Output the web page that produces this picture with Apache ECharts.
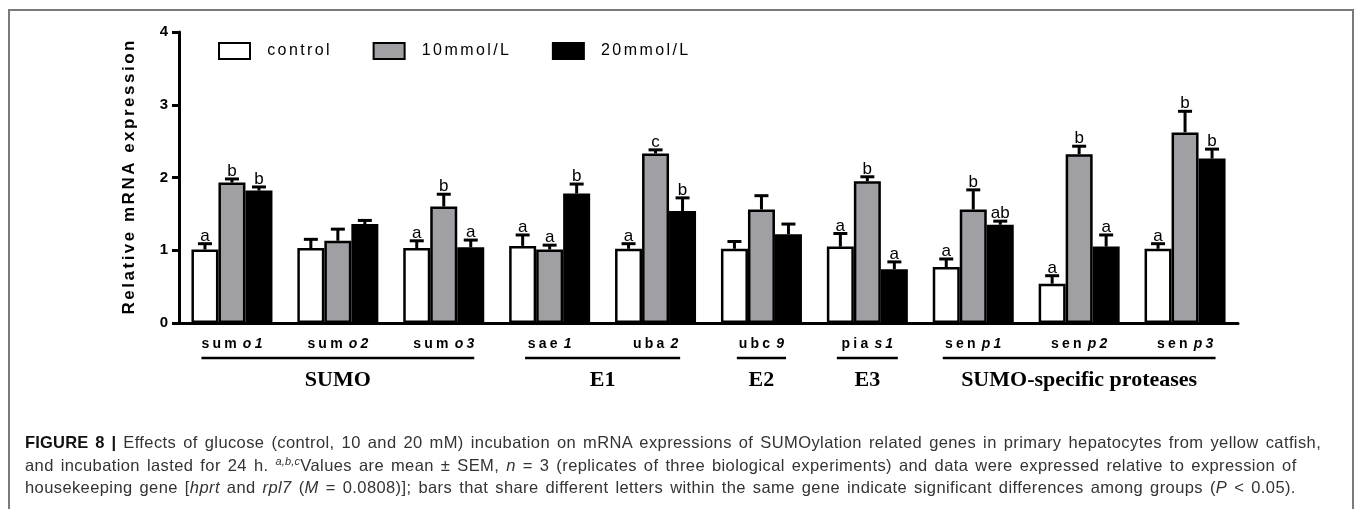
<!DOCTYPE html>
<html>
<head>
<meta charset="utf-8">
<script src="https://cdn.jsdelivr.net/npm/echarts@6/dist/echarts.min.js"></script>
<style>
  html, body { margin: 0; padding: 0; background: #fff; }
  #wrap { position: relative; width: 1360px; height: 509px; overflow: hidden; }
  #frame { position: absolute; left: 8px; top: 9px; width: 1346px; height: 520px;
           border: 2px solid #7a7a7a; border-bottom: none; box-sizing: border-box; }
  #chart { position: absolute; left: 0; top: 0; width: 1360px; height: 509px; }
  #caption { position: absolute; left: 25px; top: 431px; white-space: nowrap;
             font-family: "Liberation Sans", Arial, sans-serif; font-size: 16.5px;
             line-height: 22.5px; color: #333; letter-spacing: 0.4px; word-spacing: 2px; }
  #caption b { color: #111; letter-spacing: 0.2px; }
  #caption sup { font-size: 11px; line-height: 0; letter-spacing: 0.2px; }
</style>
</head>
<body>
<div id="wrap">
  <div id="frame"></div>
  <div id="chart"></div>
  <div id="caption">
    <b>FIGURE 8 |</b> Effects of glucose (control, 10 and 20 mM) incubation on mRNA expressions of SUMOylation related genes in primary hepatocytes from yellow catfish,<br>
    and incubation lasted for 24 h. <sup><i>a,b,c</i></sup>Values are mean ± SEM, <i>n</i> = 3 (replicates of three biological experiments) and data were expressed relative to expression of<br>
    housekeeping gene [<i>hprt</i> and <i>rpl7</i> (<i>M</i> = 0.0808)]; bars that share different letters within the same gene indicate significant differences among groups (<i>P</i> &lt; 0.05).
  </div>
</div>
<script>
const genes = ['sumo1', 'sumo2', 'sumo3', 'sae1', 'uba2', 'ubc9', 'pias1', 'senp1', 'senp2', 'senp3'];
const geneStem = ['sum', 'sum', 'sum', 'sae', 'uba', 'ubc', 'pia', 'sen', 'sen', 'sen'];
const geneItalic = ['o1', 'o2', 'o3', '1', '2', '9', 's1', 'p1', 'p2', 'p3'];
const seriesNames = ['control', '10mmol/L', '20mmol/L'];

const controlMean = [1.01, 1.03, 1.03, 1.06, 1.02, 1.02, 1.05, 0.77, 0.54, 1.02];
const controlSem = [0.08, 0.12, 0.10, 0.15, 0.07, 0.10, 0.18, 0.11, 0.11, 0.07];
const mid10Mean = [1.93, 1.13, 1.60, 1.01, 2.33, 1.56, 1.95, 1.56, 2.32, 2.62];
const mid10Sem = [0.05, 0.16, 0.17, 0.06, 0.05, 0.19, 0.06, 0.27, 0.11, 0.29];
const high20Mean = [1.82, 1.36, 1.04, 1.78, 1.54, 1.22, 0.74, 1.35, 1.05, 2.26];
const high20Sem = [0.05, 0.05, 0.10, 0.13, 0.18, 0.14, 0.10, 0.05, 0.16, 0.13];

const controlLetters = ['a', '', 'a', 'a', 'a', '', 'a', 'a', 'a', 'a'];
const mid10Letters = ['b', '', 'b', 'a', 'c', '', 'b', 'b', 'b', 'b'];
const high20Letters = ['b', '', 'a', 'b', 'b', '', 'a', 'ab', 'a', 'b'];

const groupNames = ['SUMO', 'E1', 'E2', 'E3', 'SUMO-specific proteases'];
const groupStart = [0, 3, 5, 6, 7];
const groupEnd = [2, 4, 5, 6, 9];

const yTicks = [0, 1, 2, 3, 4];

const means = [controlMean, mid10Mean, high20Mean];
const sems = [controlSem, mid10Sem, high20Sem];
const letters = [controlLetters, mid10Letters, high20Letters];
const colors = ['#ffffff', '#a0a0a4', '#000000'];
const barWidth = 27;

// spread letters out like the GraphPad text
function spaced(text, style) {
    return text.split('').map(c => '{' + style + '|' + c + '}').join('');
}

const errData = [];
for (let s = 0; s < 3; s++) {
    for (let i = 0; i < genes.length; i++) {
        errData.push([i, s, means[s][i], sems[s][i]]);
    }
}

const chart = echarts.init(document.getElementById('chart'));

const option = {
    animation: false,
    grid: { left: 179, right: 122, top: 32, bottom: 186 },
    legend: {
        data: seriesNames,
        left: 218,
        top: 42,
        padding: 0,
        itemWidth: 31,
        itemHeight: 16,
        itemGap: 43,
        icon: 'rect',
        formatter: name => spaced(name, 't'),
        textStyle: {
            padding: [0, 0, 0, 11],
            rich: {
                t: { fontFamily: 'Arial, Liberation Sans', fontSize: 16, color: '#000', padding: [0, 1.2] }
            }
        }
    },
    xAxis: {
        type: 'category',
        data: genes,
        axisLine: { lineStyle: { color: '#000', width: 3 } },
        axisTick: { alignWithLabel: true, length: 6, lineStyle: { width: 3, color: '#000' } },
        axisLabel: {
            interval: 0,
            margin: 14,
            formatter: (value, index) => spaced(geneStem[index], 'b') + '{g|}' + spaced(geneItalic[index], 'i'),
            rich: {
                b: { fontFamily: 'Arial, Liberation Sans', fontSize: 14, fontWeight: 'bold', color: '#000', padding: [0, 1.6] },
                i: { fontFamily: 'Arial, Liberation Sans', fontSize: 14, fontWeight: 'bold', fontStyle: 'italic', color: '#000', padding: [0, 1.6] },
                g: { width: 3 }
            }
        }
    },
    yAxis: {
        type: 'value',
        min: 0,
        max: 4,
        interval: 1,
        name: spaced('Relative mRNA expression', 'n'),
        nameLocation: 'middle',
        nameRotate: 90,
        nameGap: 41,
        nameTextStyle: {
            rich: {
                n: { fontFamily: 'Arial, Liberation Sans', fontSize: 17, fontWeight: 'bold', color: '#000', padding: [0, 1.25] }
            }
        },
        axisLine: { show: true, lineStyle: { color: '#000', width: 3 } },
        axisTick: { show: true, length: 7, lineStyle: { width: 3, color: '#000' } },
        splitLine: { show: false },
        axisLabel: {
            margin: 11,
            color: '#000',
            fontFamily: 'Arial, Liberation Sans',
            fontSize: 15,
            fontWeight: 'bold',
            formatter: v => (yTicks.indexOf(v) >= 0 ? String(v) : '')
        }
    },
    series: seriesNames.map((name, s) => ({
        name: name,
        type: 'bar',
        data: means[s],
        barWidth: barWidth,
        barGap: '0%',
        itemStyle: { color: colors[s], borderColor: '#000', borderWidth: 2.5 }
    })).concat([{
        type: 'custom',
        name: 'sem',
        data: errData,
        z: 5,
        renderItem: (params, api) => {
            const i = api.value(0);
            const s = api.value(1);
            const mean = api.value(2);
            const err = api.value(3);
            const base = api.coord([i, mean]);
            const top = api.coord([i, mean + err]);
            const x = base[0] + (s - 1) * barWidth;
            const style = { stroke: '#000', lineWidth: 3 };
            const children = [
                { type: 'line', shape: { x1: x, y1: base[1], x2: x, y2: top[1] }, style: style },
                { type: 'line', shape: { x1: x - 7, y1: top[1], x2: x + 7, y2: top[1] }, style: style }
            ];
            const letter = letters[s][i];
            if (letter) {
                children.push({
                    type: 'text',
                    x: x,
                    y: top[1] + 1,
                    style: {
                        text: letter,
                        align: 'center',
                        verticalAlign: 'bottom',
                        font: '17px Arial, "Liberation Sans"',
                        fill: '#000'
                    }
                });
            }
            return { type: 'group', children: children };
        }
    }])
};

chart.setOption(option);

// gene group brackets under the axis
const graphics = [];
for (let g = 0; g < groupNames.length; g++) {
    const x0 = chart.convertToPixel({ xAxisIndex: 0 }, genes[groupStart[g]]) - genes[groupStart[g]].length * 5.9 - 1;
    const x1 = chart.convertToPixel({ xAxisIndex: 0 }, genes[groupEnd[g]]) + genes[groupEnd[g]].length * 5.9 + 1;
    graphics.push({
        type: 'line',
        shape: { x1: x0, y1: 358, x2: x1, y2: 358 },
        style: { stroke: '#000', lineWidth: 2.5 }
    });
    graphics.push({
        type: 'text',
        x: (x0 + x1) / 2,
        y: 380,
        style: {
            text: groupNames[g],
            align: 'center',
            verticalAlign: 'middle',
            font: 'bold 22px "Liberation Serif", "Times New Roman", serif',
            fill: '#000'
        }
    });
}
chart.setOption({ graphic: graphics });
</script>
</body>
</html>
